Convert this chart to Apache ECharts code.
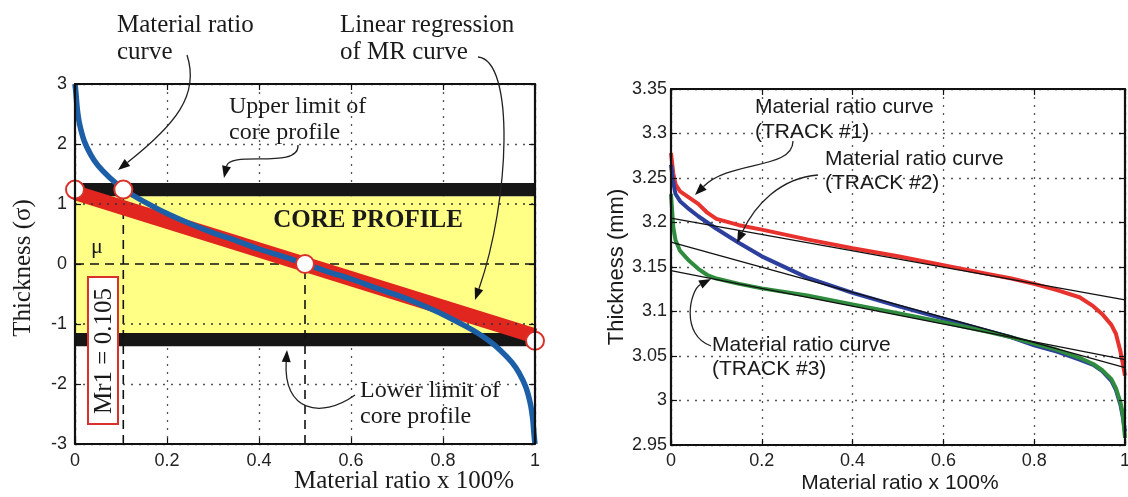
<!DOCTYPE html>
<html lang="en">
<head>
<meta charset="UTF-8">
<title>Material ratio curves</title>
<script src="https://cdn.jsdelivr.net/npm/echarts@6/dist/echarts.min.js"></script>
<style>
    html, body { margin:0; padding:0; background:#fff; }
    #main { width:1128px; height:497px; }
</style>
</head>
<body>
<div id="main"></div>
<script>
// ---- left: normalised material ratio (Abbott) curve ----
var mrX = [0, 0.002, 0.005, 0.01, 0.02, 0.035, 0.05, 0.075, 0.1, 0.125, 0.15, 0.2, 0.25, 0.3, 0.35, 0.4, 0.45, 0.5,
           0.55, 0.6, 0.65, 0.7, 0.75, 0.8, 0.85, 0.875, 0.9, 0.925, 0.95, 0.965, 0.98, 0.99, 0.995, 0.998, 1];
var mrY = [3.0, 2.85, 2.58, 2.33, 2.05, 1.81, 1.64, 1.44, 1.28, 1.15, 1.04, 0.84, 0.67, 0.52, 0.39, 0.25, 0.13, 0,
           -0.13, -0.25, -0.39, -0.52, -0.67, -0.84, -1.04, -1.15, -1.28, -1.44, -1.64, -1.81, -2.05, -2.33, -2.58, -2.85, -3.0];
var regX = [0, 1];
var regY = [1.19, -1.2];
var pointX = [0, 0.105, 0.5, 1];
var pointY = [1.24, 1.24, 0, -1.28];
var mr1 = 0.105;
var coreBand = [-1.15, 1.13];
var upperBand = [1.13, 1.35];
var lowerBand = [-1.37, -1.15];
var leftYTicks = [-3, 3, 1];
var ratioTicks = [0, 1, 0.2];

// ---- right: measured tracks ----
var trackX = [0, 0.005, 0.01, 0.02, 0.04, 0.06, 0.08, 0.1, 0.15, 0.2, 0.3, 0.4, 0.5, 0.6, 0.7, 0.75, 0.8, 0.85,
              0.9, 0.93, 0.95, 0.97, 0.98, 0.99, 0.995, 1];
var track1 = [3.278, 3.255, 3.243, 3.235, 3.228, 3.221, 3.211, 3.204, 3.197, 3.192, 3.181, 3.171, 3.162, 3.152,
              3.142, 3.137, 3.131, 3.124, 3.116, 3.106, 3.097, 3.085, 3.075, 3.055, 3.042, 3.028];
var track2 = [3.265, 3.245, 3.232, 3.224, 3.215, 3.207, 3.200, 3.193, 3.177, 3.162, 3.138, 3.121, 3.106, 3.092,
              3.078, 3.071, 3.062, 3.055, 3.046, 3.040, 3.033, 3.022, 3.012, 2.995, 2.982, 2.965];
var track3 = [3.232, 3.195, 3.180, 3.168, 3.157, 3.148, 3.141, 3.137, 3.131, 3.126, 3.118, 3.108, 3.098, 3.088,
              3.077, 3.071, 3.064, 3.057, 3.048, 3.041, 3.034, 3.024, 3.014, 2.998, 2.985, 2.958];
var fit1 = [3.205, 3.113];
var fit2 = [3.178, 3.037];
var fit3 = [3.146, 3.046];
var rightYTicks = [2.95, 3.35, 0.05];

var SERIF = '"Liberation Serif", "Times New Roman", serif';
var SANS = '"Liberation Sans", Arial, sans-serif';

function pairs(xs, ys) {
    return xs.map(function (x, i) { return [x, ys[i]]; });
}

function mainAxis(grid, pos, t, fontSize, labelMargin) {
    return {
        type: 'value', gridIndex: grid, position: pos, min: t[0], max: t[1], interval: t[2],
        axisLine: {show: false}, axisTick: {show: false},
        axisLabel: {color: '#222', fontFamily: SANS, fontSize: fontSize, margin: labelMargin},
        splitLine: {show: true, lineStyle: {color: '#555', width: 1.3, type: [2, 6]}}
    };
}

function frameAxis(grid, pos, t) {
    return {
        type: 'value', gridIndex: grid, position: pos, min: t[0], max: t[1], interval: t[2], z: 10,
        axisLine: {show: true, onZero: false, lineStyle: {color: '#111', width: 2.2}},
        axisTick: {show: true, inside: true, length: 6, lineStyle: {color: '#111', width: 1.2}},
        axisLabel: {show: false}, splitLine: {show: false}
    };
}

function text(str, x, y, font, extra) {
    var el = {
        type: 'text', x: x, y: y, z: 100, silent: true,
        style: {text: str, font: font, fill: '#1a1a1a', align: 'left', verticalAlign: 'middle'}
    };
    if (extra) {
        for (var k in extra) el[k] = extra[k];
    }
    return el;
}

function centred(str, x, y, font, rot) {
    return {
        type: 'text', x: x, y: y, z: 100, silent: true, rotation: rot || 0,
        style: {text: str, font: font, fill: '#1a1a1a', align: 'center', verticalAlign: 'middle'}
    };
}

function arrow(p0, c1, c2, p1) {
    var dx = p1[0] - c2[0], dy = p1[1] - c2[1];
    var len = Math.sqrt(dx * dx + dy * dy);
    dx /= len; dy /= len;
    var L = 12, W = 4.5;
    var bx = p1[0] - dx * L, by = p1[1] - dy * L;
    return [
        {type: 'bezierCurve', z: 100, silent: true,
         shape: {x1: p0[0], y1: p0[1], cpx1: c1[0], cpy1: c1[1], cpx2: c2[0], cpy2: c2[1], x2: bx, y2: by},
         style: {stroke: '#222', lineWidth: 1.3, fill: 'none'}},
        {type: 'polygon', z: 100, silent: true,
         shape: {points: [p1, [bx - dy * W, by + dx * W], [bx + dy * W, by - dx * W]]},
         style: {fill: '#111'}}
    ];
}

var s25 = '25px ' + SERIF;
var s24 = '24px ' + SERIF;
var a21 = '21px ' + SANS;

var graphics = [
    text('Material ratio', 117, 25, s25), text('curve', 117, 52, s25),
    text('Linear regression', 340, 25, s25), text('of MR curve', 340, 52, s25),
    text('Upper limit of', 229, 107, s24), text('core profile', 229, 133, s24),
    centred('CORE PROFILE', 368, 221, 'bold 25px ' + SERIF),
    centred('\u03bc', 97, 247, '22px ' + SERIF),
    text('Lower limit of', 360, 391, s24), text('core profile', 360, 417, s24),
    centred('Material ratio x 100%', 404, 481, s25),
    centred('Thickness (\u03c3)', 23, 268, s25, Math.PI / 2),
    {type: 'rect', z: 99, silent: true, shape: {x: 88, y: 277, width: 30, height: 147},
     style: {fill: '#fff', stroke: '#d8322b', lineWidth: 2}},
    centred('Mr1 = 0.105', 104, 351, s25, Math.PI / 2),

    text('Material ratio curve', 755, 107, a21), text('(TRACK #1)', 755, 132, a21),
    text('Material ratio curve', 825, 159, a21), text('(TRACK #2)', 825, 183, a21),
    text('Material ratio curve', 712, 345, a21), text('(TRACK #3)', 712, 369, a21),
    centred('Material ratio x 100%', 900, 483, a21),
    centred('Thickness (mm)', 617, 267, '22px ' + SANS, Math.PI / 2)
];
graphics = graphics
    .concat(arrow([187, 55], [200, 95], [175, 125], [118, 170]))
    .concat(arrow([478, 57], [515, 60], [510, 200], [475, 300]))
    .concat(arrow([298, 145], [300, 170], [230, 150], [224, 178]))
    .concat(arrow([355, 395], [320, 420], [283, 410], [287, 350]))
    .concat(arrow([793, 141], [793, 170], [730, 160], [695, 195]))
    .concat(arrow([818, 175], [780, 178], [755, 205], [737, 243]))
    .concat(arrow([711, 346], [680, 335], [690, 290], [711, 279]));

var myChart = echarts.init(document.getElementById('main'));

var option = {
    animation: false,
    backgroundColor: '#fff',
    grid: [
        {left: 75, top: 84, width: 460, height: 360, outerBoundsMode: 'none'},
        {left: 671, top: 89, width: 454, height: 356, outerBoundsMode: 'none'}
    ],
    xAxis: [
        mainAxis(0, 'bottom', ratioTicks, 18, 8),
        mainAxis(1, 'bottom', ratioTicks, 18, 7),
        frameAxis(0, 'bottom', ratioTicks), frameAxis(0, 'top', ratioTicks),
        frameAxis(1, 'bottom', ratioTicks), frameAxis(1, 'top', ratioTicks)
    ],
    yAxis: [
        mainAxis(0, 'left', leftYTicks, 18, 8),
        mainAxis(1, 'left', rightYTicks, 18, 4),
        frameAxis(0, 'left', leftYTicks), frameAxis(0, 'right', leftYTicks),
        frameAxis(1, 'left', rightYTicks), frameAxis(1, 'right', rightYTicks)
    ],
    graphic: graphics,
    series: [
        // core profile zone and its limits
        {type: 'line', xAxisIndex: 0, yAxisIndex: 0, z: 1, silent: true, symbol: 'none',
         data: [[0, 0]], lineStyle: {opacity: 0},
         markArea: {silent: true, data: [
             [{yAxis: coreBand[0], itemStyle: {color: '#ffff86'}}, {yAxis: coreBand[1]}],
             [{yAxis: upperBand[0], itemStyle: {color: '#161616'}}, {yAxis: upperBand[1]}],
             [{yAxis: lowerBand[0], itemStyle: {color: '#161616'}}, {yAxis: lowerBand[1]}]
         ]}},
        {type: 'line', xAxisIndex: 0, yAxisIndex: 0, z: 2, silent: true, symbol: 'none',
         data: [[0, 0]], lineStyle: {opacity: 0},
         markLine: {silent: true, symbol: ['none', 'none'], label: {show: false},
             lineStyle: {color: '#333', width: 1.5, type: [2, 6]},
             data: [{yAxis: 1}, {yAxis: -1}]}},
        // dashed guides
        {type: 'line', xAxisIndex: 0, yAxisIndex: 0, z: 3, silent: true, symbol: 'none',
         data: [[0, 0], [1, 0]], lineStyle: {color: '#111', width: 1.6, type: [9, 6]}},
        {type: 'line', xAxisIndex: 0, yAxisIndex: 0, z: 3, silent: true, symbol: 'none',
         data: [[mr1, -3], [mr1, pointY[1]]], lineStyle: {color: '#111', width: 1.6, type: [9, 6]}},
        {type: 'line', xAxisIndex: 0, yAxisIndex: 0, z: 3, silent: true, symbol: 'none',
         data: [[0.5, -3], [0.5, 0]], lineStyle: {color: '#111', width: 1.6, type: [9, 6]}},
        // regression and MR curve
        {type: 'line', xAxisIndex: 0, yAxisIndex: 0, z: 4, silent: true, symbol: 'none',
         data: pairs(regX, regY), lineStyle: {color: '#e0261f', width: 15}},
        {type: 'line', xAxisIndex: 0, yAxisIndex: 0, z: 5, silent: true, symbol: 'none', smooth: 0.3,
         data: pairs(mrX, mrY), lineStyle: {color: '#1d5fa6', width: 5.5}},
        {type: 'scatter', xAxisIndex: 0, yAxisIndex: 0, z: 6, silent: true, symbol: 'circle', symbolSize: 18,
         data: pairs(pointX, pointY),
         itemStyle: {color: '#ffffff', opacity: 1, borderColor: '#d8322b', borderWidth: 2}},

        // right chart
        {type: 'line', xAxisIndex: 1, yAxisIndex: 1, z: 2, silent: true, symbol: 'none',
         data: pairs(trackX, track1), lineStyle: {color: '#e8322e', width: 4}},
        {type: 'line', xAxisIndex: 1, yAxisIndex: 1, z: 2, silent: true, symbol: 'none',
         data: pairs(trackX, track2), lineStyle: {color: '#2d3f9c', width: 4}},
        {type: 'line', xAxisIndex: 1, yAxisIndex: 1, z: 2, silent: true, symbol: 'none',
         data: pairs(trackX, track3), lineStyle: {color: '#2f8c3e', width: 4}},
        {type: 'line', xAxisIndex: 1, yAxisIndex: 1, z: 3, silent: true, symbol: 'none',
         data: pairs(regX, fit1), lineStyle: {color: '#111', width: 1.3}},
        {type: 'line', xAxisIndex: 1, yAxisIndex: 1, z: 3, silent: true, symbol: 'none',
         data: pairs(regX, fit2), lineStyle: {color: '#111', width: 1.3}},
        {type: 'line', xAxisIndex: 1, yAxisIndex: 1, z: 3, silent: true, symbol: 'none',
         data: pairs(regX, fit3), lineStyle: {color: '#111', width: 1.3}}
    ]
};

myChart.setOption(option);
</script>
</body>
</html>
